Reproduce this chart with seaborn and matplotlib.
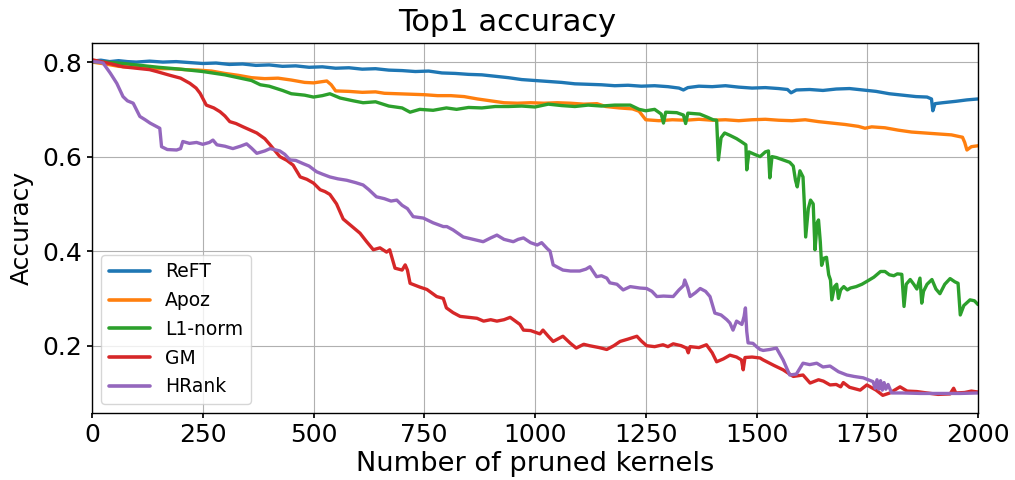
import matplotlib
matplotlib.use("Agg")
import matplotlib.pyplot as plt
import seaborn as sns
import pandas as pd

# ---------------- data ----------------
methods = ["ReFT", "Apoz", "L1-norm", "GM", "HRank"]

reft_x = [0, 20, 40, 60, 80, 100, 130, 160, 190, 220, 250, 280, 310, 340, 370, 400, 430, 460, 490, 520,
          550, 580, 610, 640, 670, 700, 730, 760, 790, 820, 850, 880, 910, 940, 970, 1000, 1030, 1060, 1090,
          1120, 1150, 1180, 1210, 1240, 1270, 1300, 1325, 1335, 1345, 1370, 1400, 1430, 1460, 1490, 1520,
          1550, 1570, 1578, 1590, 1620, 1650, 1680, 1710, 1740, 1770, 1800, 1830, 1860, 1885, 1895, 1898,
          1903, 1920, 1950, 1975, 2000]
reft_y = [0.802, 0.804, 0.801, 0.803, 0.801, 0.800, 0.802, 0.800, 0.801, 0.799, 0.797, 0.798, 0.795, 0.796,
          0.793, 0.794, 0.791, 0.792, 0.789, 0.790, 0.787, 0.788, 0.785, 0.786, 0.783, 0.782, 0.780, 0.781,
          0.777, 0.776, 0.774, 0.773, 0.770, 0.767, 0.763, 0.761, 0.759, 0.757, 0.754, 0.753, 0.752, 0.750,
          0.751, 0.749, 0.750, 0.748, 0.745, 0.741, 0.746, 0.749, 0.748, 0.750, 0.747, 0.745, 0.746, 0.744,
          0.742, 0.735, 0.741, 0.742, 0.740, 0.743, 0.744, 0.741, 0.738, 0.733, 0.730, 0.727, 0.726, 0.722,
          0.697, 0.712, 0.714, 0.717, 0.720, 0.722]

apoz_x = [0, 30, 60, 90, 120, 150, 180, 210, 240, 270, 300, 330, 360, 390, 420, 450, 480, 500, 515, 530,
          540, 550, 580, 610, 640, 660, 690, 720, 750, 780, 810, 840, 870, 900, 930, 960, 990, 1020, 1050,
          1080, 1110, 1140, 1160, 1190, 1220, 1235, 1250, 1280, 1310, 1340, 1370, 1400, 1430, 1460, 1490,
          1520, 1550, 1580, 1610, 1640, 1670, 1700, 1730, 1745, 1760, 1790, 1820, 1850, 1880, 1910, 1940,
          1965, 1970, 1975, 1985, 2000]
apoz_y = [0.800, 0.796, 0.791, 0.789, 0.788, 0.786, 0.786, 0.784, 0.783, 0.781, 0.776, 0.772, 0.767, 0.765,
          0.766, 0.762, 0.757, 0.756, 0.758, 0.760, 0.752, 0.739, 0.738, 0.736, 0.737, 0.734, 0.733, 0.732,
          0.731, 0.729, 0.729, 0.727, 0.722, 0.718, 0.714, 0.713, 0.714, 0.713, 0.714, 0.713, 0.711, 0.712,
          0.706, 0.703, 0.701, 0.696, 0.678, 0.676, 0.678, 0.677, 0.679, 0.677, 0.678, 0.676, 0.678, 0.679,
          0.677, 0.676, 0.678, 0.674, 0.671, 0.668, 0.664, 0.660, 0.663, 0.661, 0.656, 0.652, 0.650, 0.648,
          0.646, 0.641, 0.630, 0.614, 0.621, 0.623]

l1_x = [0, 30, 70, 110, 150, 200, 250, 300, 340, 360, 380, 400, 430, 450, 480, 500, 520, 537, 560, 590,
        612, 640, 670, 700, 718, 740, 770, 800, 823, 850, 880, 910, 940, 970, 1000, 1030, 1060, 1090, 1120,
        1150, 1180, 1215, 1235, 1250, 1270, 1285, 1290, 1295, 1320, 1335, 1340, 1345, 1372, 1390, 1402,
        1410, 1414, 1420, 1428, 1440, 1455, 1465, 1476, 1478, 1483, 1495, 1508, 1520, 1527, 1530, 1535,
        1545, 1560, 1575, 1583, 1588, 1592, 1598, 1605, 1608, 1611, 1617, 1622, 1628, 1632, 1637, 1640,
        1644, 1647, 1652, 1658, 1663, 1667, 1670, 1676, 1681, 1685, 1690, 1697, 1705, 1712, 1725, 1738,
        1749, 1765, 1780, 1790, 1800, 1810, 1818, 1828, 1833, 1838, 1847, 1855, 1862, 1869, 1873, 1877,
        1885, 1896, 1905, 1914, 1925, 1937, 1948, 1955, 1960, 1968, 1982, 1992, 2000]
l1_y = [0.801, 0.800, 0.797, 0.793, 0.789, 0.785, 0.780, 0.773, 0.765, 0.761, 0.752, 0.749, 0.740, 0.733,
        0.730, 0.726, 0.729, 0.733, 0.724, 0.718, 0.714, 0.716, 0.707, 0.703, 0.694, 0.700, 0.698, 0.703,
        0.700, 0.704, 0.703, 0.706, 0.706, 0.707, 0.705, 0.711, 0.708, 0.706, 0.709, 0.707, 0.709, 0.709,
        0.700, 0.697, 0.700, 0.690, 0.671, 0.694, 0.693, 0.688, 0.670, 0.692, 0.690, 0.683, 0.678, 0.677,
        0.593, 0.640, 0.650, 0.645, 0.638, 0.632, 0.625, 0.572, 0.610, 0.605, 0.600, 0.610, 0.612, 0.555,
        0.600, 0.598, 0.593, 0.588, 0.580, 0.550, 0.536, 0.570, 0.557, 0.500, 0.430, 0.490, 0.508, 0.500,
        0.403, 0.460, 0.466, 0.420, 0.370, 0.385, 0.387, 0.350, 0.339, 0.297, 0.325, 0.330, 0.300, 0.318,
        0.325, 0.318, 0.322, 0.325, 0.330, 0.336, 0.345, 0.357, 0.357, 0.350, 0.348, 0.352, 0.351, 0.283,
        0.330, 0.340, 0.330, 0.320, 0.343, 0.290, 0.315, 0.330, 0.340, 0.320, 0.310, 0.330, 0.342, 0.335,
        0.332, 0.265, 0.285, 0.297, 0.295, 0.287]

gm_x = [0, 20, 40, 70, 100, 130, 146, 176, 200, 221, 235, 244, 258, 275, 289, 300, 311, 325, 341, 372,
        390, 402, 424, 440, 454, 470, 485, 500, 515, 526, 537, 552, 567, 590, 605, 620, 635, 650, 665, 672,
        684, 700, 707, 712, 718, 740, 756, 778, 793, 800, 815, 831, 850, 869, 884, 900, 914, 930, 944, 966,
        974, 990, 1011, 1018, 1030, 1041, 1063, 1080, 1093, 1110, 1123, 1145, 1162, 1178, 1192, 1210,
        1230, 1240, 1252, 1270, 1289, 1300, 1312, 1330, 1342, 1346, 1350, 1370, 1387, 1400, 1410, 1425,
        1440, 1455, 1466, 1470, 1474, 1490, 1508, 1515, 1540, 1560, 1583, 1605, 1621, 1640, 1651, 1666,
        1680, 1690, 1696, 1710, 1734, 1749, 1770, 1785, 1801, 1824, 1840, 1862, 1885, 1910, 1937, 1945,
        1950, 1970, 1985, 2000]
gm_y = [0.805, 0.801, 0.797, 0.790, 0.787, 0.784, 0.780, 0.772, 0.766, 0.755, 0.745, 0.734, 0.709, 0.703,
        0.695, 0.686, 0.674, 0.670, 0.663, 0.650, 0.638, 0.625, 0.600, 0.592, 0.582, 0.557, 0.552, 0.544,
        0.530, 0.526, 0.520, 0.500, 0.468, 0.450, 0.438, 0.420, 0.403, 0.407, 0.398, 0.403, 0.364, 0.360,
        0.371, 0.360, 0.332, 0.324, 0.319, 0.304, 0.300, 0.280, 0.270, 0.262, 0.260, 0.258, 0.252, 0.255,
        0.252, 0.255, 0.260, 0.245, 0.233, 0.232, 0.225, 0.233, 0.220, 0.209, 0.220, 0.205, 0.195, 0.203,
        0.200, 0.196, 0.192, 0.200, 0.209, 0.214, 0.220, 0.210, 0.200, 0.198, 0.202, 0.198, 0.204, 0.200,
        0.195, 0.185, 0.198, 0.196, 0.202, 0.185, 0.166, 0.172, 0.180, 0.176, 0.170, 0.149, 0.175, 0.176,
        0.174, 0.170, 0.158, 0.149, 0.135, 0.138, 0.121, 0.128, 0.125, 0.117, 0.118, 0.113, 0.122, 0.112,
        0.106, 0.117, 0.106, 0.095, 0.100, 0.113, 0.104, 0.103, 0.100, 0.097, 0.098, 0.110, 0.100, 0.101,
        0.104, 0.102]

hrank_x = [0, 15, 25, 41, 56, 70, 80, 93, 108, 120, 131, 145, 153, 157, 170, 191, 200, 205, 220, 236, 250,
           265, 273, 282, 300, 318, 335, 349, 360, 372, 390, 402, 424, 435, 447, 460, 477, 490, 507, 520,
           537, 555, 575, 595, 612, 625, 642, 660, 675, 688, 700, 712, 725, 748, 770, 793, 801, 815, 838,
           860, 883, 900, 914, 930, 951, 962, 974, 990, 1005, 1015, 1028, 1034, 1041, 1063, 1080, 1101,
           1115, 1124, 1139, 1150, 1162, 1169, 1185, 1199, 1215, 1237, 1252, 1264, 1275, 1290, 1312, 1325,
           1335, 1338, 1345, 1350, 1362, 1373, 1385, 1395, 1406, 1420, 1433, 1440, 1447, 1455, 1467, 1472,
           1475, 1478, 1481, 1492, 1500, 1508, 1515, 1530, 1545, 1560, 1575, 1590, 1605, 1620, 1636, 1650,
           1666, 1685, 1704, 1720, 1741, 1763, 1768, 1772, 1776, 1780, 1784, 1788, 1792, 1797, 1805, 1830,
           1870, 1920, 1960, 2000]
hrank_y = [0.801, 0.800, 0.798, 0.777, 0.755, 0.727, 0.718, 0.713, 0.685, 0.678, 0.671, 0.664, 0.660, 0.621,
           0.615, 0.614, 0.617, 0.632, 0.628, 0.630, 0.626, 0.630, 0.635, 0.625, 0.622, 0.617, 0.622, 0.627,
           0.618, 0.607, 0.612, 0.617, 0.612, 0.605, 0.593, 0.592, 0.585, 0.580, 0.568, 0.563, 0.557, 0.553,
           0.550, 0.545, 0.540, 0.530, 0.515, 0.511, 0.506, 0.508, 0.497, 0.490, 0.473, 0.470, 0.460, 0.452,
           0.452, 0.445, 0.430, 0.425, 0.420, 0.428, 0.434, 0.425, 0.420, 0.425, 0.428, 0.418, 0.413, 0.418,
           0.405, 0.400, 0.371, 0.360, 0.358, 0.358, 0.362, 0.367, 0.346, 0.348, 0.343, 0.333, 0.330, 0.318,
           0.325, 0.322, 0.321, 0.315, 0.304, 0.305, 0.304, 0.318, 0.327, 0.339, 0.322, 0.304, 0.312, 0.321,
           0.315, 0.304, 0.269, 0.265, 0.255, 0.248, 0.233, 0.252, 0.245, 0.262, 0.280, 0.230, 0.206, 0.205,
           0.198, 0.192, 0.190, 0.192, 0.195, 0.170, 0.138, 0.140, 0.163, 0.160, 0.163, 0.155, 0.157, 0.145,
           0.138, 0.135, 0.132, 0.124, 0.110, 0.128, 0.108, 0.126, 0.106, 0.122, 0.108, 0.118, 0.100, 0.100,
           0.099, 0.099, 0.099, 0.100]

xticks = [0, 250, 500, 750, 1000, 1250, 1500, 1750, 2000]
yticks = [0.2, 0.4, 0.6, 0.8]

# ---------------- build long table ----------------
frames = []
for name, xs, ys in zip(methods,
                        [reft_x, apoz_x, l1_x, gm_x, hrank_x],
                        [reft_y, apoz_y, l1_y, gm_y, hrank_y]):
    frames.append(pd.DataFrame({"kernels": xs, "acc": ys, "method": name}))
df = pd.concat(frames, ignore_index=True)

# ---------------- style ----------------
sns.set_theme(style="whitegrid")
plt.rcParams["font.family"] = ["DejaVu Sans"]
plt.rcParams.update({
    "text.color": "black",
    "axes.labelcolor": "black",
    "axes.edgecolor": "black",
    "axes.linewidth": 1.0,
    "grid.color": "#b0b0b0",
    "grid.linewidth": 0.8,
    "xtick.bottom": True,
    "ytick.left": True,
    "xtick.major.size": 3.5,
    "ytick.major.size": 3.5,
    "xtick.color": "black",
    "ytick.color": "black",
})

W, H = 1015, 480
fig = plt.figure(figsize=(W / 100, H / 100), dpi=100)
left, right, top, bottom = 92, 978, 42.7, 413.3
ax = fig.add_axes([left / W, 1 - bottom / H, (right - left) / W, (bottom - top) / H])

palette = sns.color_palette("tab10", 5)
sns.lineplot(data=df, x="kernels", y="acc", hue="method", hue_order=methods,
             palette=palette, estimator=None, sort=False, linewidth=2.4, ax=ax)

ax.set_xlim(0, 2000)
ax.set_ylim(0.057, 0.841)
ax.set_xticks(xticks)
ax.set_yticks(yticks)
ax.set_yticklabels([f"{v:.1f}" for v in yticks])
ax.tick_params(labelsize=18)
ax.set_xlabel("Number of pruned kernels", fontsize=19.6, labelpad=3)
ax.set_ylabel("Accuracy", fontsize=18, labelpad=6)
fig.text(0.5, 1 - 30.7 / H, "Top1 accuracy", ha="center", va="baseline", fontsize=22)
for s in ax.spines.values():
    s.set_color("black")

leg = ax.legend(loc="lower left", fontsize=13.5, frameon=True, fancybox=True,
                framealpha=0.8, edgecolor="#cccccc", labelspacing=0.52,
                handlelength=2.2, borderaxespad=0.5)
for line in leg.get_lines():
    line.set_linewidth(2.6)

fig.savefig("out.png", dpi=100)
